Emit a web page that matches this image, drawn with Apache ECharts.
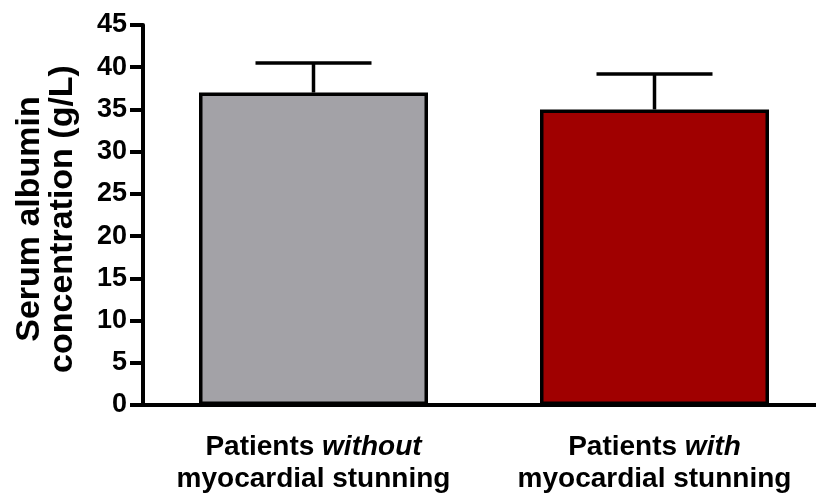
<!DOCTYPE html>
<html>
<head>
<meta charset="utf-8">
<title>Serum albumin concentration</title>
<script src="https://cdn.jsdelivr.net/npm/echarts@6/dist/echarts.min.js"></script>
<style>
  html, body { margin: 0; padding: 0; background: #ffffff; }
  #chart { width: 816px; height: 495px; }
</style>
</head>
<body>
<div id="chart"></div>
<script>
// Group labels: plain lead word, italic qualifier, second line
var groupLead = ['Patients', 'Patients'];
var groupEmph = ['without', 'with'];
var groupTail = ['myocardial stunning', 'myocardial stunning'];
var categories = ['Patients without myocardial stunning', 'Patients with myocardial stunning'];

// Mean serum albumin (g/L) and standard deviation per group
var meanValues = [37, 35];
var sdValues = [3.5, 4.2];
var barColors = ['#a3a2a7', '#a00000'];

// Y axis range and tick step
var yMin = 0;
var yMax = 45;
var yStep = 5;

var FONT = '"Liberation Sans", Arial, Helvetica, sans-serif';

var chart = echarts.init(document.getElementById('chart'), null, { renderer: 'canvas' });

var barData = meanValues.map(function (v, i) {
  return { value: v, itemStyle: { color: barColors[i] } };
});
var errData = meanValues.map(function (v, i) {
  return [i, v, v + sdValues[i]];
});

chart.setOption({
  animation: false,
  backgroundColor: '#ffffff',
  grid: {
    left: 143,
    top: 25,
    width: 682,
    height: 380,
    containLabel: false,
    outerBoundsMode: 'none'
  },
  xAxis: {
    type: 'category',
    data: categories,
    boundaryGap: true,
    axisLine: { lineStyle: { color: '#000', width: 4 } },
    axisTick: { alignWithLabel: true, length: 22, lineStyle: { color: '#000', width: 4 } },
    axisLabel: {
      margin: 26,
      interval: 0,
      color: '#000',
      fontFamily: FONT,
      fontSize: 28,
      fontWeight: 'bold',
      lineHeight: 32,
      align: 'center',
      formatter: function (val, idx) {
        return '{b|' + groupLead[idx] + ' }{i|' + groupEmph[idx] + '}\n{b|' + groupTail[idx] + '}';
      },
      rich: {
        b: { fontFamily: FONT, fontSize: 28, fontWeight: 'bold', color: '#000', lineHeight: 32 },
        i: { fontFamily: FONT, fontSize: 28, fontWeight: 'bold', fontStyle: 'italic', color: '#000', lineHeight: 32 }
      }
    },
    splitLine: { show: false }
  },
  yAxis: {
    type: 'value',
    min: yMin,
    max: yMax,
    interval: yStep,
    name: 'Serum albumin\nconcentration (g/L)',
    nameLocation: 'middle',
    nameRotate: 90,
    nameGap: 64,
    nameTextStyle: {
      color: '#000',
      fontFamily: FONT,
      fontSize: 34,
      fontWeight: 'bold',
      lineHeight: 33,
      padding: [0, 8, 0, 0]
    },
    axisLine: { show: true, lineStyle: { color: '#000', width: 4 } },
    axisTick: { show: true, length: 13, lineStyle: { color: '#000', width: 4 } },
    axisLabel: {
      margin: 16,
      color: '#000',
      fontFamily: FONT,
      fontSize: 27,
      fontWeight: 'bold'
    },
    splitLine: { show: false }
  },
  series: [
    {
      type: 'bar',
      data: barData,
      barWidth: 229,
      itemStyle: { borderColor: '#000', borderWidth: 3.5 },
      z: 2
    },
    {
      // SD whiskers drawn upward from the top of each bar
      type: 'custom',
      data: errData,
      z: 3,
      renderItem: function (params, api) {
        var x = api.value(0);
        var base = api.coord([x, api.value(1)]);
        var top = api.coord([x, api.value(2)]);
        var capHalf = 58;
        var style = { stroke: '#000', lineWidth: 3.5, fill: null };
        return {
          type: 'group',
          children: [
            { type: 'line', shape: { x1: base[0], y1: base[1], x2: top[0], y2: top[1] }, style: style },
            { type: 'line', shape: { x1: top[0] - capHalf, y1: top[1], x2: top[0] + capHalf, y2: top[1] }, style: style }
          ]
        };
      }
    }
  ]
});
</script>
</body>
</html>
